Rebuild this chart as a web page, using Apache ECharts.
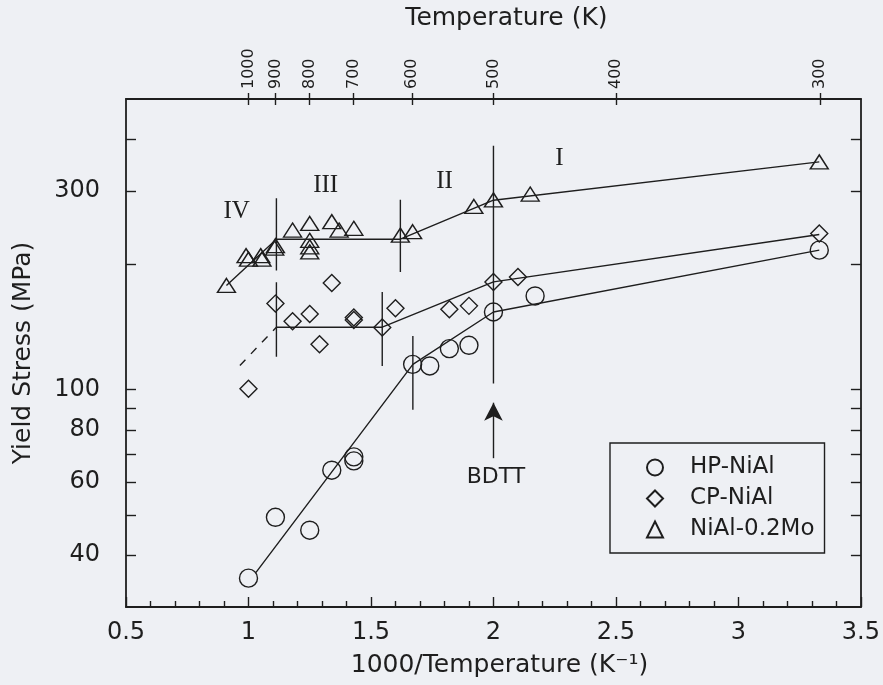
<!DOCTYPE html>
<html>
<head>
<meta charset="utf-8">
<script src="https://cdn.jsdelivr.net/npm/echarts@6/dist/echarts.min.js"></script>
<style>
html,body{margin:0;padding:0;background:#eef0f4;}
#chart{width:883px;height:685px;}
</style>
</head>
<body>
<div id="chart"></div>
<script>
// ---- data (x = 1000/T, y = yield stress MPa) ----
const hpX = [1.00, 1.11, 1.25, 1.34, 1.43, 1.43, 1.67, 1.74, 1.82, 1.90, 2.00, 2.17, 3.33];
const hpY = [35.2, 49.3, 45.9, 64.0, 68.9, 67.4, 115, 114, 125.5, 127.8, 153.7, 168, 216.5];

const cpX = [1.00, 1.11, 1.18, 1.25, 1.29, 1.34, 1.43, 1.43, 1.546, 1.60, 1.82, 1.90, 2.00, 2.10, 3.33];
const cpY = [100.5, 161, 146, 152, 128.5, 180.5, 149, 147, 141, 157, 156, 159, 181.4, 186.5, 237.5];

const moX = [0.91, 0.99, 1.00, 1.05, 1.055, 1.107, 1.11, 1.18, 1.25, 1.25, 1.25, 1.25, 1.34, 1.37, 1.43, 1.62, 1.67, 1.92, 2.00, 2.15, 3.33];
const moY = [178, 210, 206, 210, 206, 219, 222, 242, 251, 228.6, 220.5, 214.4, 253.5, 242, 244.3, 235.3, 239.8, 275.7, 286, 295.3, 353];

// fitted trend lines
const hpFitX = [1.03, 1.671, 2.00, 3.33];
const hpFitY = [36.3, 115, 153.7, 216.5];
const cpFitX = [1.114, 1.546, 2.00, 3.33];
const cpFitY = [141.3, 141.3, 181.6, 236];
const cpDashX = [0.965, 1.114];
const cpDashY = [114.3, 141.3];
const moFitX = [0.91, 1.114, 1.62, 2.00, 3.33];
const moFitY = [178, 230, 230, 285.5, 353];

// vertical region dividers: [x, yLow, yHigh]
const dividers = [
  [1.114, 193.5, 288.7], [1.62, 191.8, 286.2],
  [1.114, 120, 181.3], [1.546, 113.9, 171.6],
  [1.671, 89.4, 134.6],
  [2.00, 103.4, 386]
];
const bdttArrow = [2.00, 68.4, 93];

// text annotations: [label, x, y]
const regionLabels = [['IV', 0.952, 268.5], ['III', 1.315, 310.5], ['II', 1.80, 317.5], ['I', 2.269, 359]];
const bdttLabel = ['BDTT', 2.01, 61.5];

// tick values
const xTicks = [0.5, 1, 1.5, 2, 2.5, 3, 3.5];
const topTempTicks = [1000, 900, 800, 700, 600, 500, 400, 300];
const yTickValues = [40, 50, 60, 70, 80, 90, 100, 200, 300, 400];
const yLabelValues = [40, 60, 80, 100, 300];

const names = ['HP-NiAl', 'CP-NiAl', 'NiAl-0.2Mo'];

// ---- chart ----
const FONT = 'DejaVu Sans';
const INK = '#1e1e1e';
const zip = (xs, ys) => xs.map((x, i) => [x, ys[i]]);
const topPos = topTempTicks.map(t => 1000 / t);

const fitLine = (xs, ys, extra) => Object.assign({
  type: 'line', data: zip(xs, ys), symbol: 'none', silent: true,
  lineStyle: {color: INK, width: 1.4}, z: 3, animation: false
}, extra || {});

const markerStyle = {color: 'transparent', borderColor: INK, borderWidth: 1.4, opacity: 1};
const series = [];
series.push({
  name: names[0], type: 'scatter', data: zip(hpX, hpY), symbol: 'circle', symbolSize: 18,
  itemStyle: markerStyle, z: 4
});
series.push({
  name: names[1], type: 'scatter', data: zip(cpX, cpY), symbol: 'diamond', symbolSize: [17, 17],
  itemStyle: markerStyle, z: 4
});
series.push({
  name: names[2], type: 'scatter', data: zip(moX, moY), symbol: 'triangle', symbolSize: [18, 14],
  itemStyle: markerStyle, z: 4
});
series.push(fitLine(hpFitX, hpFitY));
series.push(fitLine(cpFitX, cpFitY));
series.push(fitLine(moFitX, moFitY));
series.push(fitLine(cpDashX, cpDashY, {lineStyle: {color: INK, width: 1.4, type: [8, 8]}}));
dividers.forEach(d => series.push(fitLine([d[0], d[0]], [d[1], d[2]])));

// arrow + text annotations
series.push({
  type: 'scatter', data: [], silent: true,
  markLine: {
    silent: true, animation: false,
    symbol: ['none', 'arrow'], symbolSize: [14, 18],
    lineStyle: {color: INK, width: 1.4, type: 'solid', opacity: 1},
    itemStyle: {color: INK},
    label: {show: false},
    data: [[{coord: [bdttArrow[0], bdttArrow[1]]}, {coord: [bdttArrow[0], bdttArrow[2]]}]]
  }
});
series.push({
  type: 'scatter', symbol: 'circle', symbolSize: 1, silent: true,
  itemStyle: {color: 'transparent', opacity: 1},
  data: regionLabels.map(r => ({value: [r[1], r[2]], name: r[0]})),
  label: {show: true, position: 'inside', formatter: p => p.name, opacity: 1,
          fontFamily: 'Liberation Serif', fontSize: 25, color: INK}
});
series.push({
  type: 'scatter', symbol: 'circle', symbolSize: 1, silent: true,
  itemStyle: {color: 'transparent', opacity: 1},
  data: [{value: [bdttLabel[1], bdttLabel[2]], name: bdttLabel[0]}],
  label: {show: true, position: 'inside', formatter: p => p.name, opacity: 1,
          fontFamily: FONT, fontSize: 22, color: INK}
});

const option = {
  backgroundColor: '#eef0f4',
  animation: false,
  textStyle: {fontFamily: FONT, color: INK},
  grid: {left: 126, right: 21, top: 99, bottom: 78},
  legend: {
    data: names, orient: 'vertical', left: 610, top: 443,
    padding: [13, 10, 12, 36], itemGap: 8, itemWidth: 16, itemHeight: 16,
    borderColor: INK, borderWidth: 1.4, borderRadius: 0,
    textStyle: {fontFamily: FONT, fontSize: 23, color: INK, lineHeight: 22, padding: [0, 0, 0, 22]},
    selectedMode: false
  },
  xAxis: [
    {
      type: 'value', position: 'bottom', min: 0.5, max: 3.5, interval: 0.5,
      name: '1000/Temperature (K\u207B\u00B9)', nameLocation: 'middle', nameGap: 46,
      nameTextStyle: {fontFamily: FONT, fontSize: 25, color: INK, padding: [0, 0, 0, 12]},
      axisLine: {show: true, lineStyle: {color: INK, width: 1.8}},
      axisTick: {show: true, inside: true, length: 10, lineStyle: {color: INK, width: 1.4}},
      minorTick: {show: true, splitNumber: 5, length: 6, lineStyle: {color: INK, width: 1.4}},
      axisLabel: {fontFamily: FONT, fontSize: 24, color: INK, margin: 14,
                  customValues: xTicks},
      splitLine: {show: false}
    },
    {
      type: 'value', position: 'top', min: 0.5, max: 3.5,
      name: 'Temperature (K)', nameLocation: 'middle', nameGap: 68,
      nameTextStyle: {fontFamily: FONT, fontSize: 25, color: INK, padding: [0, 0, 0, 26]},
      axisLine: {show: true, lineStyle: {color: INK, width: 1.8}},
      axisTick: {show: true, inside: false, length: 6, customValues: topPos, lineStyle: {color: INK, width: 1.4}},
      axisLabel: {show: true, rotate: -90, fontFamily: FONT, fontSize: 16, color: INK, margin: 10,
                  customValues: topPos, formatter: v => String(Math.round(1000 / v))},
      splitLine: {show: false}
    },
    {
      type: 'value', position: 'top', min: 0.5, max: 3.5,
      axisLine: {show: false},
      axisTick: {show: true, inside: true, length: 6, customValues: topPos, lineStyle: {color: INK, width: 1.4}},
      axisLabel: {show: false},
      splitLine: {show: false}
    }
  ],
  yAxis: [
    {
      type: 'log', logBase: 10, min: 30, max: 500, position: 'left',
      name: 'Yield Stress (MPa)', nameLocation: 'middle', nameGap: 90,
      nameTextStyle: {fontFamily: FONT, fontSize: 25, color: INK},
      axisLine: {show: true, lineStyle: {color: INK, width: 1.8}},
      axisTick: {show: true, inside: true, length: 10, customValues: yTickValues, lineStyle: {color: INK, width: 1.4}},
      axisLabel: {fontFamily: FONT, fontSize: 24, color: INK, margin: 26, customValues: yLabelValues},
      splitLine: {show: false}, minorTick: {show: false}
    },
    {
      type: 'log', logBase: 10, min: 30, max: 500, position: 'right',
      axisLine: {show: true, lineStyle: {color: INK, width: 1.8}},
      axisTick: {show: true, inside: true, length: 10, customValues: yTickValues, lineStyle: {color: INK, width: 1.4}},
      axisLabel: {show: false},
      splitLine: {show: false}
    }
  ],
  series: series
};

const chart = echarts.init(document.getElementById('chart'), null, {renderer: 'canvas'});
chart.setOption(option);
</script>
</body>
</html>
